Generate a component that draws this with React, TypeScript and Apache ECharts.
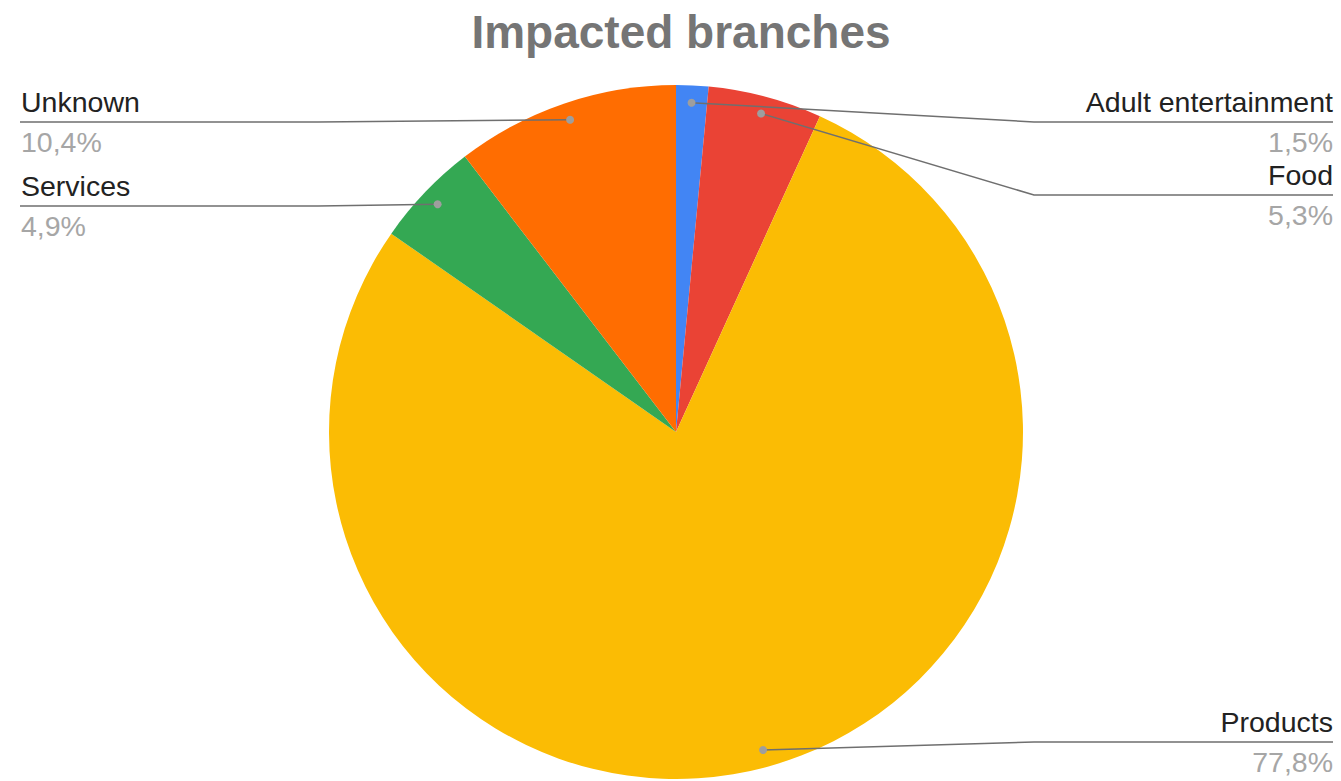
import React, { useEffect, useRef } from "react";
import * as echarts from "echarts";

const CATEGORIES = ["Adult entertainment", "Food", "Products", "Services", "Unknown"];
const VALUES = [1.5, 5.3, 77.8, 4.9, 10.4];
const PCT_LABELS = ["1,5%", "5,3%", "77,8%", "4,9%", "10,4%"];
const COLORS = ["#4285F4", "#EA4335", "#FBBC04", "#34A853", "#FF6D01"];
// label layout (y of each leader line's horizontal run)
const LABEL_LINE_Y = [122, 195, 742, 206, 122];

const W = 1341;
const H = 781;
const CX = 676;
const CY = 432;
const R = 347;
const ANCHOR_R = 0.95 * R;
const FONT = "Liberation Sans, Arial, sans-serif";

function midAngle(i: number): number {
  const total = VALUES.reduce((a, b) => a + b, 0);
  let acc = 0;
  for (let k = 0; k < i; k++) acc += VALUES[k];
  return ((acc + VALUES[i] / 2) / total) * Math.PI * 2;
}

export default function App() {
  const ref = useRef<HTMLDivElement>(null);
  useEffect(() => {
    if (!ref.current) return;
    const chart = echarts.init(ref.current, null, { renderer: "svg" });
    const anchors = VALUES.map((_, i) => {
      const a = midAngle(i);
      return [CX + ANCHOR_R * Math.sin(a), CY - ANCHOR_R * Math.cos(a)];
    });
    const isRight = VALUES.map((_, i) => Math.sin(midAngle(i)) > 0);
    const leaderPoints = VALUES.map((_, i) => {
      const right = isRight[i];
      const ly = LABEL_LINE_Y[i];
      return [anchors[i], [right ? 1034 : 318, ly], [right ? 1333 : 20, ly]];
    });
    chart.setOption({
      animation: false,
      backgroundColor: "#ffffff",
      title: {
        text: "Impacted branches",
        left: CX,
        textAlign: "center",
        top: 4,
        textStyle: {
          fontFamily: FONT,
          fontSize: 46,
          fontWeight: "bold",
          color: "#757575",
        },
      },
      series: [
        {
          type: "pie",
          center: [CX, CY],
          radius: [0, R],
          startAngle: 90,
          clockwise: true,
          avoidLabelOverlap: false,
          itemStyle: { borderColor: "#ffffff", borderWidth: 0 },
          label: {
            show: true,
            position: "outside",
            fontFamily: FONT,
            formatter: (p: any) => {
              const s = isRight[p.dataIndex] ? "R" : "L";
              return `{n${s}|${p.name}}\n{p${s}|${PCT_LABELS[p.dataIndex]}}`;
            },
            rich: {
              nR: { fontSize: 28.5, color: "#222222", lineHeight: 40, align: "right", fontFamily: FONT },
              pR: { fontSize: 28.5, color: "#a6a6a6", lineHeight: 40, align: "right", fontFamily: FONT },
              nL: { fontSize: 28.5, color: "#222222", lineHeight: 40, align: "left", fontFamily: FONT },
              pL: { fontSize: 28.5, color: "#a6a6a6", lineHeight: 40, align: "left", fontFamily: FONT },
            },
          },
          labelLine: { show: false },
          labelLayout: (params: any) => {
            const i = params.dataIndex;
            const right = isRight[i];
            return {
              x: right ? 1333 : 21,
              y: LABEL_LINE_Y[i],
              align: right ? "right" : "left",
              verticalAlign: "middle",
            };
          },
          data: CATEGORIES.map((name, i) => ({
            name,
            value: VALUES[i],
            itemStyle: { color: COLORS[i] },
          })),
        },
      ],
      graphic: [
        ...leaderPoints.map((pts) => ({
          type: "polyline",
          z: 100,
          shape: { points: pts },
          style: { stroke: "#6f6f6f", lineWidth: 1.5, fill: null },
        })),
        ...anchors.map((pt) => ({
          type: "circle",
          z: 101,
          shape: { cx: pt[0], cy: pt[1], r: 4 },
          style: { fill: "#9e9e9e" },
        })),
      ],
    });
    return () => chart.dispose();
  }, []);
  return (
    <div
      ref={ref}
      style={{ position: "absolute", left: 0, top: 0, width: W, height: H }}
    />
  );
}
